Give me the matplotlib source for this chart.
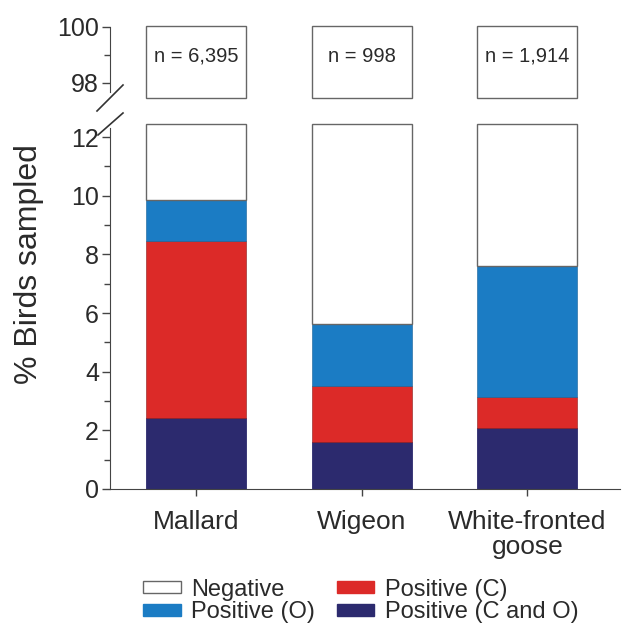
import matplotlib
matplotlib.use("Agg")
import matplotlib.pyplot as plt
from matplotlib.lines import Line2D
from matplotlib.patches import Patch
from matplotlib.ticker import MultipleLocator, FixedLocator
import numpy as np

plt.rcParams['font.family'] = ['Liberation Sans', 'DejaVu Sans']

species = ["Mallard", "Wigeon", "White-fronted\ngoose"]
n_labels = ["n = 6,395", "n = 998", "n = 1,914"]
pos_c_and_o = [2.42, 1.60, 2.08]
pos_c = [6.04, 1.92, 1.06]
pos_o = [1.40, 2.10, 4.48]
negative = [100 - a - b - c for a, b, c in zip(pos_c_and_o, pos_c, pos_o)]

col_co = "#2c2a6e"
col_c = "#dc2a28"
col_o = "#1b7cc4"
edge = "#666666"
txt = "#2a2a2a"

low_cap = 12.45
up_floor = 97.45

fig = plt.figure(figsize=(6.27, 6.25), dpi=100)
W, H = 627, 625
ax = fig.add_axes([110 / W, 1 - 489 / H, 510 / W, (489 - 122.5) / H])
axu = fig.add_axes([110 / W, 1 - 102.6 / H, 510 / W, (102.6 - 24.2) / H])

x = np.arange(len(species))
w = 0.606

b0 = np.zeros(len(species))
ax.bar(x, pos_c_and_o, w, bottom=b0, color=col_co, edgecolor=col_co, linewidth=0.6)
b1 = b0 + np.array(pos_c_and_o)
ax.bar(x, pos_c, w, bottom=b1, color=col_c, edgecolor="#8a1a1a", linewidth=0.4)
b2 = b1 + np.array(pos_c)
ax.bar(x, pos_o, w, bottom=b2, color=col_o, edgecolor="#155f96", linewidth=0.4)
b3 = b2 + np.array(pos_o)
neg_low = np.minimum(b3 + np.array(negative), low_cap) - b3
ax.bar(x, neg_low, w, bottom=b3, color="white", edgecolor=edge, linewidth=1.0)

neg_up = (b3 + np.array(negative) + 0.05) - up_floor
axu.bar(x, neg_up, w, bottom=up_floor, color="white", edgecolor=edge, linewidth=1.0)
for xi, lab in zip(x, n_labels):
    axu.text(xi, 98.95, lab, ha="center", va="center", fontsize=14.5, color=txt)

for a in (ax, axu):
    a.set_xlim(-0.52, 2.56)
    a.spines['top'].set_visible(False)
    a.spines['right'].set_visible(False)
    a.spines['left'].set_color("#444444")
    a.spines['bottom'].set_color("#444444")

ax.set_ylim(0, 12.5)
ax.yaxis.set_major_locator(MultipleLocator(2))
ax.yaxis.set_minor_locator(MultipleLocator(1))
ax.spines['left'].set_bounds(0, 12.3)
ax.set_xticks(x)
ax.set_xticklabels(species, fontsize=19, color=txt, linespacing=1.05)
ax.tick_params(axis='x', length=5, width=1, color="#444444", pad=10)
ax.tick_params(axis='y', which='major', length=6, width=1, color="#444444",
               labelsize=18, labelcolor=txt, pad=2)
ax.tick_params(axis='y', which='minor', length=4, width=1, color="#444444")
ax.set_ylabel("% Birds sampled", fontsize=23, color=txt)
ax.yaxis.set_label_coords(-0.13, 0.615)

axu.set_ylim(97.3, 100.1)
axu.spines['bottom'].set_visible(False)
axu.spines['left'].set_bounds(97.68, 100)
axu.set_xticks([])
axu.yaxis.set_major_locator(FixedLocator([98, 100]))
axu.yaxis.set_minor_locator(FixedLocator([99]))
axu.tick_params(axis='y', which='major', length=6, width=1, color="#444444",
                labelsize=18, labelcolor=txt, pad=2)
axu.tick_params(axis='y', which='minor', length=4, width=1, color="#444444")

for (xa, ya), (xb, yb) in [((97, 111), (123, 85)), ((98, 135), (123, 113))]:
    fig.add_artist(Line2D([xa / W, xb / W], [1 - ya / H, 1 - yb / H],
                          color="#333333", linewidth=1.2))

handles = [Patch(facecolor="white", edgecolor=edge, linewidth=1.0, label="Negative"),
           Patch(facecolor=col_o, edgecolor=col_o, label="Positive (O)"),
           Patch(facecolor=col_c, edgecolor=col_c, label="Positive (C)"),
           Patch(facecolor=col_co, edgecolor=col_co, label="Positive (C and O)")]
leg = fig.legend(handles=handles, ncol=2, loc="center left",
                 bbox_to_anchor=(143 / W, 1 - 601 / H), frameon=False,
                 fontsize=17, handlelength=1.6, handleheight=0.42,
                 handletextpad=0.45, columnspacing=0.9, labelspacing=0.02,
                 borderpad=0, borderaxespad=0)
for t in leg.get_texts():
    t.set_color(txt)

fig.savefig("out.png", dpi=100)
